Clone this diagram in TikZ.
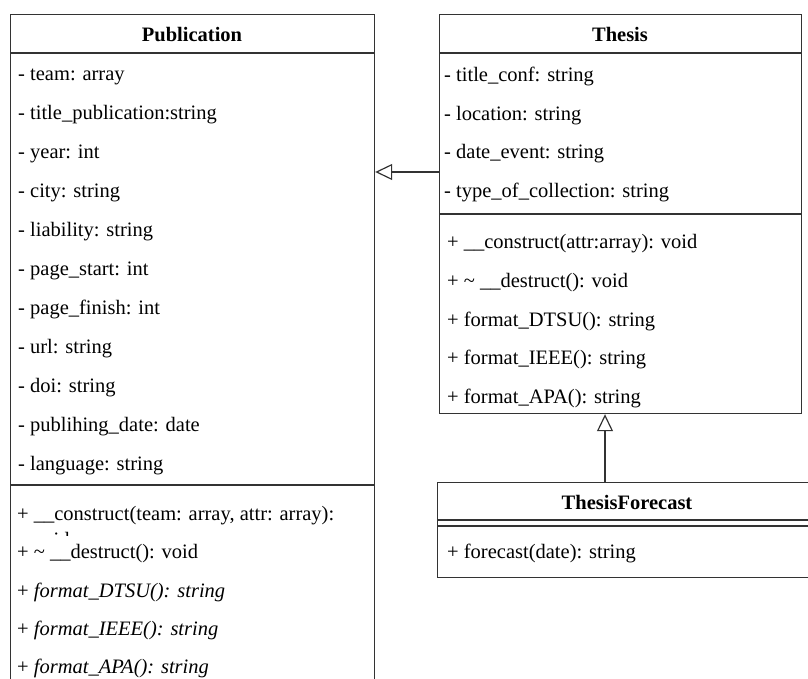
\documentclass[tikz,border=0pt]{standalone}
\usepackage{fontspec}
\setmainfont{Liberation Serif}
\usetikzlibrary{arrows.meta}
\definecolor{linec}{HTML}{333333}
\newcommand\fsz{\fontsize{20.5}{24}\selectfont}
\tikzset{
  classbox/.style={draw=linec, line width=1.2pt, fill=white, anchor=north west, inner sep=0pt},
  sepline/.style={draw=linec, line width=1.2pt},
  attr/.style={anchor=base west, inner sep=0pt, font=\fsz},
  hdr/.style={anchor=base, inner sep=0pt, font=\fsz\bfseries},
  inh/.style={draw=linec, line width=1.2pt, -{Triangle[open, fill=white, length=17pt, width=16pt]}},
}
\begin{document}
\begin{tikzpicture}[x=1pt,y=-1pt]
\useasboundingbox (0,0) rectangle (808,679);
\clip (0,0) rectangle (808,679);
% boxes
\node[classbox, minimum width=364pt, minimum height=706pt] (pub) at (10,14) {};
\node[classbox, minimum width=362pt, minimum height=399pt] (thesis) at (439,14) {};
\node[classbox, minimum width=380pt, minimum height=95pt] (forecast) at (437,482) {};
% compartment lines
\draw[sepline] (10,53) -- (374,53);
\draw[sepline] (10,485) -- (374,485);
\draw[sepline] (439,53) -- (801,53);
\draw[sepline] (439,214) -- (801,214);
\draw[sepline] (437,520) -- (817,520);
\draw[sepline] (437,526) -- (817,526);
% headers
\node[hdr] (pubh) at (192,42) {Publication};
\node[hdr] (thesish) at (620,42) {Thesis};
\node[hdr] (forecasth) at (627,509) {ThesisForecast};
% Publication attributes
\node[attr] (pa1) at (18,81) {- team: array};
\node[attr] (pa2) at (18,119.9) {- title\_publication:string};
\node[attr] (pa3) at (18,158.8) {- year: int};
\node[attr] (pa4) at (18,197.7) {- city: string};
\node[attr] (pa5) at (18,236.6) {- liability: string};
\node[attr] (pa6) at (18,275.5) {- page\_start: int};
\node[attr] (pa7) at (18,314.4) {- page\_finish: int};
\node[attr] (pa8) at (18,353.3) {- url: string};
\node[attr] (pa9) at (18,392.2) {- doi: string};
\node[attr] (pa10) at (18,431.1) {- publihing\_date: date};
\node[attr] (pa11) at (18,470) {- language: string};
% Publication methods
\node[attr] (pm1) at (17,520) {+ \_\_construct(team: array, attr: array):};
\begin{scope}
  \clip (20,527) rectangle (120,535.5);
  \node[attr] (pvoid) at (33,546) {void};
\end{scope}
\node[attr] (pm2) at (17,558.5) {+ \textasciitilde{} \_\_destruct(): void};
\node[attr] (pm3) at (17,597) {+ \textit{format\_DTSU(): string}};
\node[attr] (pm4) at (17,635) {+ \textit{format\_IEEE(): string}};
\node[attr] (pm5) at (17,673) {+ \textit{format\_APA(): string}};
% Thesis attributes
\node[attr] (ta1) at (444,82) {- title\_conf: string};
\node[attr] (ta2) at (444,120.3) {- location: string};
\node[attr] (ta3) at (444,158.6) {- date\_event: string};
\node[attr] (ta4) at (444,197) {- type\_of\_collection: string};
% Thesis methods
\node[attr] (tm1) at (447,248) {+ \_\_construct(attr:array): void};
\node[attr] (tm2) at (447,287) {+ \textasciitilde{} \_\_destruct(): void};
\node[attr] (tm3) at (447,326) {+ format\_DTSU(): string};
\node[attr] (tm4) at (447,364.5) {+ format\_IEEE(): string};
\node[attr] (tm5) at (447,403) {+ format\_APA(): string};
% ThesisForecast methods
\node[attr] (fm1) at (447,558) {+ forecast(date): string};
% inheritance connectors
\coordinate (hy) at (0,172);
\coordinate (vx) at (605,0);
\draw[inh] (thesis.west |- hy) -- (pub.east |- hy);
\draw[inh] (forecast.north -| vx) -- (thesis.south -| vx);
\end{tikzpicture}
\end{document}
